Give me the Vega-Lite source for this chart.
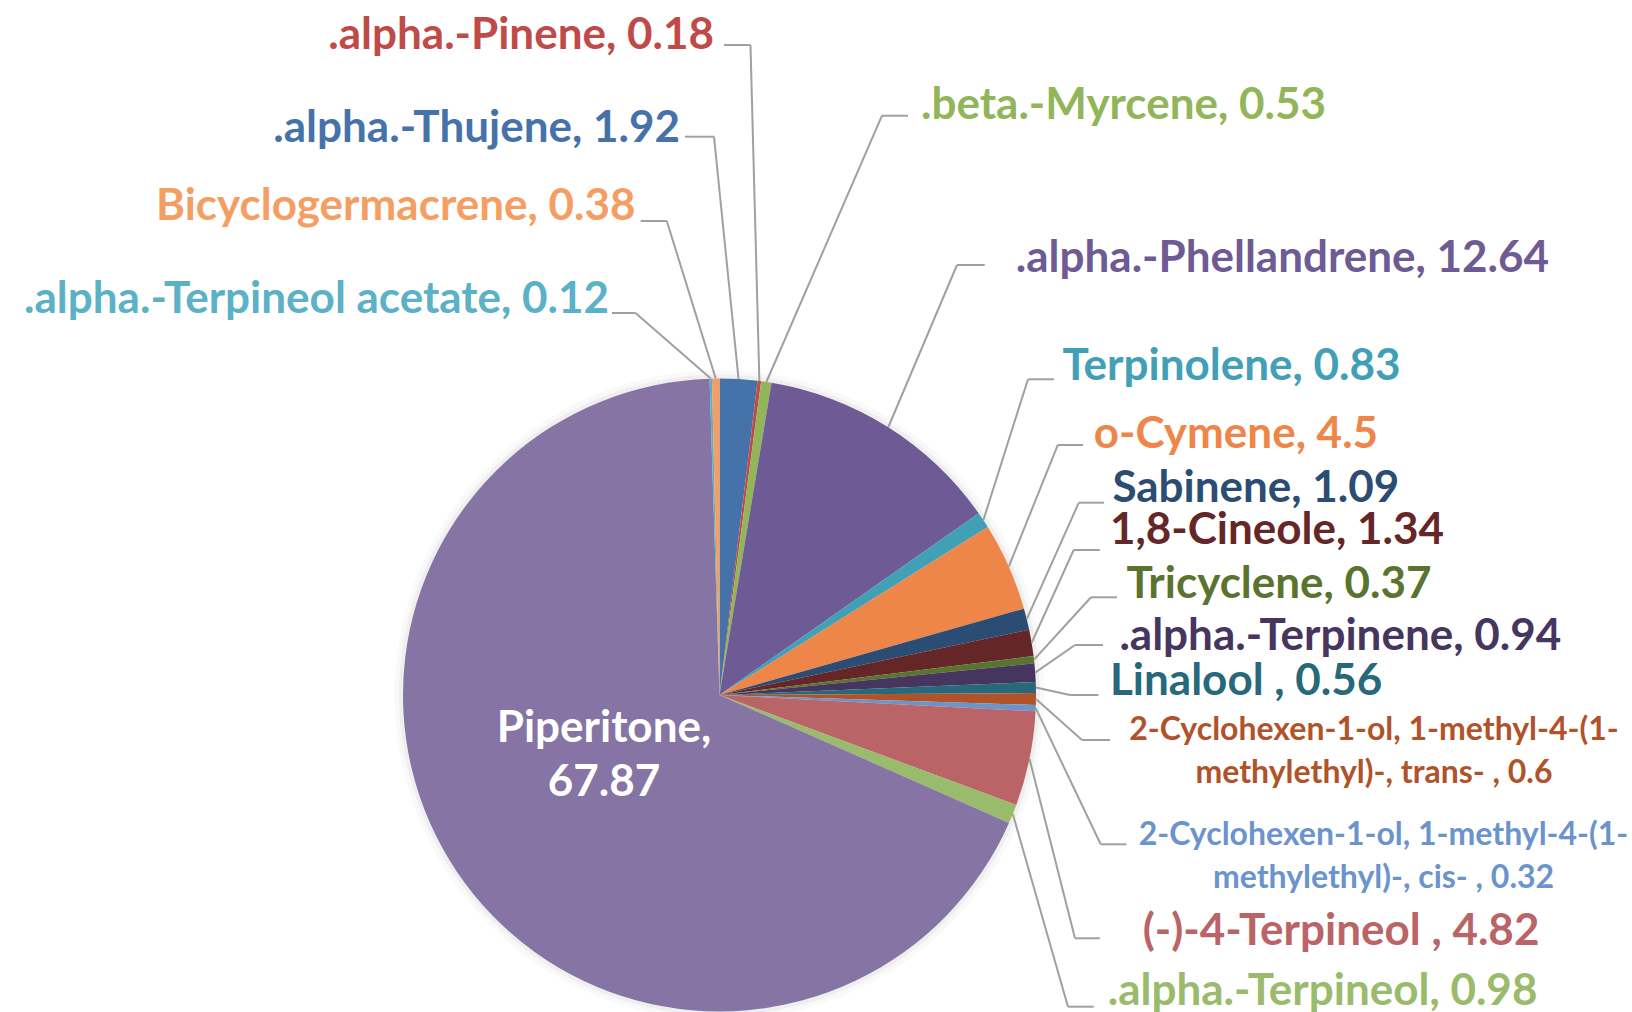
{
  "$schema": "https://vega.github.io/schema/vega-lite/v6.json",
  "width": 1632,
  "height": 1012,
  "padding": 0,
  "autosize": {"type": "none"},
  "background": "white",
  "config": {"view": {"stroke": null}, "text": {"font": "Lato", "fontWeight": "bold"}},
  "data": {"values": [
    {"k": 1, "name": ".alpha.-Thujene", "value": 1.92, "lab": ".alpha.-Thujene, 1.92", "lx": -0.1248, "ly": 1.7886, "ex": -0.0174, "ey": 1.7640, "hx": -0.1090},
    {"k": 2, "name": ".alpha.-Pinene", "value": 0.18, "lab": ".alpha.-Pinene, 0.18", "lx": -0.0174, "ly": 2.0837, "ex": 0.0979, "ey": 2.0537, "hx": 0.0142},
    {"k": 3, "name": ".beta.-Myrcene", "value": 0.53, "lab": ".beta.-Myrcene, 0.53", "lx": 0.6367, "ly": 1.8625, "ex": 0.5134, "ey": 1.8303, "hx": 0.5956},
    {"k": 4, "name": ".alpha.-Phellandrene", "value": 12.64, "lab": ".alpha.-Phellandrene, 12.64", "lx": 0.9362, "ly": 1.3778, "ex": 0.7504, "ey": 1.3586, "hx": 0.8379},
    {"k": 5, "name": "Terpinolene", "value": 0.83, "lab": "Terpinolene, 0.83", "lx": 1.0837, "ly": 1.0357, "ex": 0.9747, "ey": 0.9975, "hx": 1.0569},
    {"k": 6, "name": "o-Cymene", "value": 4.5, "lab": "o-Cymene, 4.5", "lx": 1.1823, "ly": 0.8228, "ex": 1.0689, "ey": 0.7899, "hx": 1.1485},
    {"k": 7, "name": "Sabinene", "value": 1.09, "lab": "Sabinene, 1.09", "lx": 1.2414, "ly": 0.6521, "ex": 1.1352, "ey": 0.6076, "hx": 1.2148},
    {"k": 8, "name": "1,8-Cineole", "value": 1.34, "lab": "1,8-Cineole, 1.34", "lx": 1.2338, "ly": 0.5173, "ex": 1.1191, "ey": 0.4581, "hx": 1.2016},
    {"k": 9, "name": "Tricyclene", "value": 0.37, "lab": "Tricyclene, 0.37", "lx": 1.2856, "ly": 0.3479, "ex": 1.1738, "ey": 0.3087, "hx": 1.2559},
    {"k": 10, "name": ".alpha.-Terpinene", "value": 0.94, "lab": ".alpha.-Terpinene, 0.94", "lx": 1.2635, "ly": 0.1836, "ex": 1.1232, "ey": 0.1580, "hx": 1.2117},
    {"k": 11, "name": "Linalool", "value": 0.56, "lab": "Linalool , 0.56", "lx": 1.2338, "ly": 0.0404, "ex": 1.1074, "ey": 0.0, "hx": 1.1972},
    {"k": 12, "name": "2-Cyclohexen-1-ol, 1-methyl-4-(1-methylethyl)-, trans-", "value": 0.6, "lab": ["2-Cyclohexen-1-ol, 1-methyl-4-(1-", "methylethyl)-, trans- , 0.6"], "lx": 2.0679, "ly": -0.1106, "ex": 1.1453, "ey": -0.1422, "hx": 1.2338},
    {"k": 13, "name": "2-Cyclohexen-1-ol, 1-methyl-4-(1-methylethyl)-, cis-", "value": 0.32, "lab": ["2-Cyclohexen-1-ol, 1-methyl-4-(1-", "methylethyl)-, cis- , 0.32"], "lx": 2.0980, "ly": -0.4423, "ex": 1.2044, "ey": -0.4717, "hx": 1.2856},
    {"k": 14, "name": "(-)-4-Terpineol", "value": 4.82, "lab": "(-)-4-Terpineol , 4.82", "lx": 1.3374, "ly": -0.7475, "ex": 1.1232, "ey": -0.7687, "hx": 1.2016},
    {"k": 15, "name": ".alpha.-Terpineol", "value": 0.98, "lab": ".alpha.-Terpineol, 0.98", "lx": 1.2265, "ly": -0.9371, "ex": 1.1011, "ey": -0.9848, "hx": 1.1823},
    {"k": 16, "name": "Piperitone", "value": 67.87, "lab": ["Piperitone,", "67.87"], "lx": -0.3649, "ly": -0.1074},
    {"k": 17, "name": ".alpha.-Terpineol acetate", "value": 0.12, "lab": ".alpha.-Terpineol acetate, 0.12", "lx": -0.3491, "ly": 1.2473, "ex": -0.2654, "ey": 1.2070, "hx": -0.3397},
    {"k": 18, "name": "Bicyclogermacrene", "value": 0.38, "lab": "Bicyclogermacrene, 0.38", "lx": -0.2654, "ly": 1.5412, "ex": -0.1665, "ey": 1.4976, "hx": -0.2490}
  ]},
  "transform": [
    {"window": [{"op": "sum", "field": "value", "as": "cum"}], "sort": [{"field": "k", "order": "ascending"}], "frame": [null, 0]},
    {"joinaggregate": [{"op": "sum", "field": "value", "as": "total"}]},
    {"calculate": "(datum.cum - datum.value / 2) / datum.total * 2 * PI", "as": "mid"},
    {"calculate": "sin(datum.mid)", "as": "sx"},
    {"calculate": "cos(datum.mid)", "as": "sy"}
  ],
  "layer": [
    {
      "mark": {"type": "arc", "theta": 0, "theta2": 6.2832, "outerRadius": 325, "fill": "#000000", "opacity": 0.025},
      "transform": [{"filter": "datum.k == 16"}],
      "encoding": {
        "x": {"datum": 0, "type": "quantitative", "scale": {"domain": [-2.2733, 2.8831], "nice": false, "zero": false}, "axis": null},
        "y": {"datum": 0, "type": "quantitative", "scale": {"domain": [-1.0016, 2.1959], "nice": false, "zero": false}, "axis": null}
      }
    },
    {
      "mark": {"type": "arc", "theta": 0, "theta2": 6.2832, "outerRadius": 320.5, "fill": "#000000", "opacity": 0.04},
      "transform": [{"filter": "datum.k == 16"}],
      "encoding": {
        "x": {"datum": 0, "type": "quantitative", "scale": {"domain": [-2.2733, 2.8831], "nice": false, "zero": false}, "axis": null},
        "y": {"datum": 0, "type": "quantitative", "scale": {"domain": [-1.0016, 2.1959], "nice": false, "zero": false}, "axis": null}
      }
    },
    {
      "mark": {"type": "arc", "outerRadius": 316.5},
      "encoding": {
        "theta": {"field": "value", "type": "quantitative", "stack": true},
        "order": {"field": "k", "type": "quantitative"},
        "color": {"field": "name", "type": "nominal", "legend": null,
          "scale": {
            "domain": [".alpha.-Thujene", ".alpha.-Pinene", ".beta.-Myrcene", ".alpha.-Phellandrene", "Terpinolene", "o-Cymene", "Sabinene", "1,8-Cineole", "Tricyclene", ".alpha.-Terpinene", "Linalool", "2-Cyclohexen-1-ol, 1-methyl-4-(1-methylethyl)-, trans-", "2-Cyclohexen-1-ol, 1-methyl-4-(1-methylethyl)-, cis-", "(-)-4-Terpineol", ".alpha.-Terpineol", "Piperitone", ".alpha.-Terpineol acetate", "Bicyclogermacrene"],
            "range": ["#4672AA", "#BE4B48", "#91B558", "#6E5A94", "#42A0B6", "#EF8649", "#2C4D73", "#652627", "#5A7430", "#46355E", "#27687A", "#B0532A", "#6B93CC", "#BA6467", "#9ABA6C", "#8574A4", "#5BB1C6", "#F59E64"]
          }},
        "x": {"datum": 0, "type": "quantitative", "scale": {"domain": [-2.2733, 2.8831], "nice": false, "zero": false}, "axis": null},
        "y": {"datum": 0, "type": "quantitative", "scale": {"domain": [-1.0016, 2.1959], "nice": false, "zero": false}, "axis": null}
      }
    },
    {
      "transform": [{"filter": "isValid(datum.ex)"}],
      "mark": {"type": "rule", "color": "#A0A0A0", "strokeWidth": 2},
      "encoding": {
        "x": {"field": "sx", "type": "quantitative", "scale": {"domain": [-2.2733, 2.8831], "nice": false, "zero": false}, "axis": null},
        "y": {"field": "sy", "type": "quantitative", "scale": {"domain": [-1.0016, 2.1959], "nice": false, "zero": false}, "axis": null},
        "x2": {"field": "ex"},
        "y2": {"field": "ey"}
      }
    },
    {
      "transform": [{"filter": "isValid(datum.ex)"}],
      "mark": {"type": "rule", "color": "#A0A0A0", "strokeWidth": 2},
      "encoding": {
        "x": {"field": "ex", "type": "quantitative", "scale": {"domain": [-2.2733, 2.8831], "nice": false, "zero": false}, "axis": null},
        "y": {"field": "ey", "type": "quantitative", "scale": {"domain": [-1.0016, 2.1959], "nice": false, "zero": false}, "axis": null},
        "x2": {"field": "hx"}
      }
    },
    {
      "transform": [{"filter": "indexof([1, 2, 17, 18], datum.k) >= 0"}],
      "mark": {"type": "text", "align": "right", "baseline": "middle", "fontSize": 44},
      "encoding": {
        "x": {"field": "lx", "type": "quantitative", "scale": {"domain": [-2.2733, 2.8831], "nice": false, "zero": false}, "axis": null},
        "y": {"field": "ly", "type": "quantitative", "scale": {"domain": [-1.0016, 2.1959], "nice": false, "zero": false}, "axis": null},
        "text": {"field": "lab"},
        "color": {"field": "name", "type": "nominal", "legend": null}
      }
    },
    {
      "transform": [{"filter": "indexof([1, 2, 12, 13, 16, 17, 18], datum.k) < 0"}],
      "mark": {"type": "text", "align": "left", "baseline": "middle", "fontSize": 44},
      "encoding": {
        "x": {"field": "lx", "type": "quantitative", "scale": {"domain": [-2.2733, 2.8831], "nice": false, "zero": false}, "axis": null},
        "y": {"field": "ly", "type": "quantitative", "scale": {"domain": [-1.0016, 2.1959], "nice": false, "zero": false}, "axis": null},
        "text": {"field": "lab"},
        "color": {"field": "name", "type": "nominal", "legend": null}
      }
    },
    {
      "transform": [{"filter": "datum.k == 12 || datum.k == 13"}],
      "mark": {"type": "text", "align": "center", "baseline": "middle", "fontSize": 32, "lineHeight": 43},
      "encoding": {
        "x": {"field": "lx", "type": "quantitative", "scale": {"domain": [-2.2733, 2.8831], "nice": false, "zero": false}, "axis": null},
        "y": {"field": "ly", "type": "quantitative", "scale": {"domain": [-1.0016, 2.1959], "nice": false, "zero": false}, "axis": null},
        "text": {"field": "lab"},
        "color": {"field": "name", "type": "nominal", "legend": null}
      }
    },
    {
      "transform": [{"filter": "datum.k == 16"}],
      "mark": {"type": "text", "align": "center", "baseline": "middle", "fontSize": 44, "lineHeight": 54, "color": "#FFFFFF"},
      "encoding": {
        "x": {"field": "lx", "type": "quantitative", "scale": {"domain": [-2.2733, 2.8831], "nice": false, "zero": false}, "axis": null},
        "y": {"field": "ly", "type": "quantitative", "scale": {"domain": [-1.0016, 2.1959], "nice": false, "zero": false}, "axis": null},
        "text": {"field": "lab"}
      }
    }
  ]
}
